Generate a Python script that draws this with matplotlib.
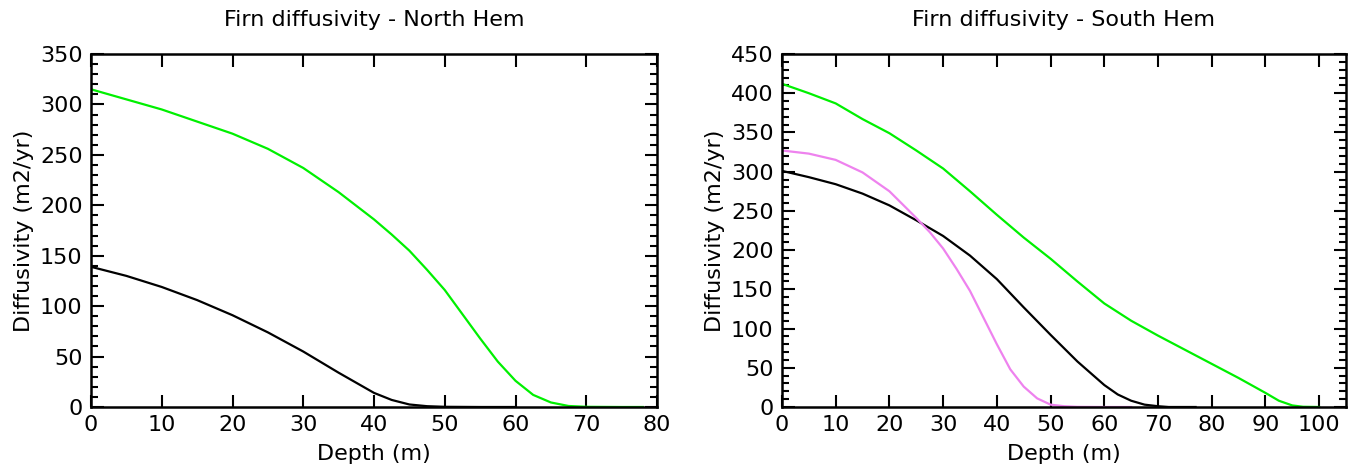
import numpy as np
import matplotlib
matplotlib.use("Agg")
import matplotlib.pyplot as plt
from matplotlib.ticker import MultipleLocator, NullLocator

# North hemisphere profiles (depth m, diffusivity m2/yr)
nh_black_depth = [0, 5, 10, 15, 20, 25, 30, 35, 40, 42.5, 45, 47.5, 50, 55, 60]
nh_black_diff = [139, 130, 119, 106, 91, 74, 55, 34, 14, 7, 2.5, 0.8, 0.2, 0, 0]

nh_green_depth = [0, 5, 10, 15, 20, 25, 30, 35, 40, 42.5, 45, 47.5, 50, 52.5, 55, 57.5,
                  60, 62.5, 65, 67.5, 70, 75, 78]
nh_green_diff = [315, 305, 295, 283, 271, 256, 237, 213, 186, 171, 155, 136, 116, 92, 68, 45,
                 26, 12, 4.5, 1, 0.2, 0, 0]

# South hemisphere profiles
sh_black_depth = [0, 5, 10, 15, 20, 25, 30, 35, 40, 45, 50, 55, 60, 62.5, 65, 67.5,
                  70, 72, 77]
sh_black_diff = [301, 293, 284, 272, 257, 238, 218, 193, 163, 127, 92, 58, 28, 16, 8, 3,
                 1, 0, 0]

sh_green_depth = [0, 5, 10, 15, 20, 25, 30, 35, 40, 45, 50, 55, 60, 65, 70, 75, 80, 85,
                  90, 92.5, 95, 97, 100]
sh_green_diff = [412, 400, 387, 367, 349, 327, 304, 275, 245, 216, 189, 160, 132, 110, 91,
                 73, 55, 37, 18, 8, 2, 0.3, 0]

sh_pink_depth = [0, 5, 10, 15, 20, 25, 27.5, 30, 32.5, 35, 37.5, 40, 42.5, 45, 47.5, 50,
                 52.5, 55, 60, 65]
sh_pink_diff = [327, 323, 315, 299, 275, 241, 223, 202, 176, 148, 114, 80, 48, 26, 11, 3,
                1, 0.2, 0, 0]

plt.rcParams['font.family'] = 'DejaVu Sans'
fs = 16

fig = plt.figure(figsize=[13.52, 4.70], dpi=100)
ax1 = fig.add_axes([91/1352, 63/470, 566/1352, 353/470])
ax2 = fig.add_axes([782/1352, 63/470, 564/1352, 353/470])

lw = 1.6
green = '#00f000'
ax1.plot(nh_black_depth, nh_black_diff, color='black', lw=lw)
ax1.plot(nh_green_depth, nh_green_diff, color=green, lw=lw)

ax2.plot(sh_black_depth, sh_black_diff, color='black', lw=lw)
ax2.plot(sh_green_depth, sh_green_diff, color=green, lw=lw)
ax2.plot(sh_pink_depth, sh_pink_diff, color='#ee82ee', lw=lw)

ax1.set_xlim(0, 80)
ax1.set_ylim(0, 350)
ax2.set_xlim(0, 105)
ax2.set_ylim(0, 450)

for ax, title in [(ax1, 'Firn diffusivity - North Hem'), (ax2, 'Firn diffusivity - South Hem')]:
    ax.xaxis.set_major_locator(MultipleLocator(10))
    ax.xaxis.set_minor_locator(NullLocator())
    ax.yaxis.set_major_locator(MultipleLocator(50))
    ax.yaxis.set_minor_locator(MultipleLocator(10))
    ax.tick_params(which='both', direction='in', top=True, right=True, width=1.5,
                   labelsize=fs, colors='black')
    ax.tick_params(which='major', length=9, pad=6)
    ax.tick_params(which='minor', length=5)
    for s in ax.spines.values():
        s.set_linewidth(1.8)
    ax.set_xlabel('Depth (m)', fontsize=fs, labelpad=6)
    ax.set_ylabel('Diffusivity (m2/yr)', fontsize=fs, labelpad=4)
    ax.set_title(title, fontsize=fs, pad=20)

plt.savefig('out.png', dpi=100)
